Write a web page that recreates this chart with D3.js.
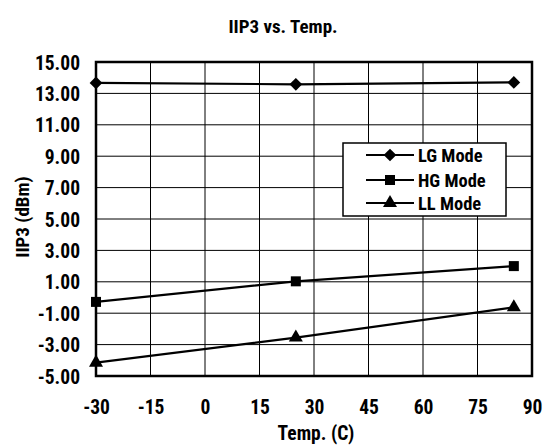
<!DOCTYPE html>
<html><head><meta charset="utf-8">
<script src="https://d3js.org/d3.v7.min.js"></script>
<style>body{margin:0;background:#fff}text{font-family:"Roboto Condensed","Liberation Sans Narrow",sans-serif;font-weight:bold;fill:#000}</style>
</head><body><svg id="c" width="554" height="446"></svg>
<script>
const temps = [-30, 25, 85];
const seriesNames = ["LG Mode", "HG Mode", "LL Mode"];
const lgMode = [13.67, 13.58, 13.7];
const hgMode = [-0.28, 1.03, 2.0];
const llMode = [-4.15, -2.55, -0.62];
const xTicks = [-30, -15, 0, 15, 30, 45, 60, 75, 90];
const yTicks = [-5, -3, -1, 1, 3, 5, 7, 9, 11, 13, 15];

const svg = d3.select("#c");
const L = 96, R = 532, T = 62, B = 376;
const x = d3.scaleLinear().domain([-30, 90]).range([L, R]);
const y = d3.scaleLinear().domain([-5, 15]).range([B, T]);
const hy = v => v.replace("\u2212", "-");

// gridlines
svg.append("g").selectAll("line").data(xTicks).join("line")
  .attr("x1", d => x(d)).attr("x2", d => x(d)).attr("y1", T).attr("y2", B)
  .attr("stroke", "#000").attr("stroke-width", 1);
svg.append("g").selectAll("line").data(yTicks).join("line")
  .attr("x1", L).attr("x2", R).attr("y1", d => y(d)).attr("y2", d => y(d))
  .attr("stroke", "#000").attr("stroke-width", 1);
svg.append("rect").attr("x", L).attr("y", T).attr("width", R - L).attr("height", B - T)
  .attr("fill", "none").attr("stroke", "#000").attr("stroke-width", 2.5);

// axes labels
const yAxis = d3.axisLeft(y).tickValues(yTicks).tickFormat(d => hy(d3.format(".2f")(d))).tickSize(0).tickPadding(16);
const gy = svg.append("g").attr("transform", `translate(${L},0)`).call(yAxis);
gy.select(".domain").remove();
gy.selectAll("text").attr("font-size", 19.5).attr("font-family", null).attr("dy", "0.36em");

const xAxis = d3.axisBottom(x).tickValues(xTicks).tickFormat(d => hy(d3.format("d")(d))).tickSize(0).tickPadding(24);
const gx = svg.append("g").attr("transform", `translate(0,${B})`).call(xAxis);
gx.select(".domain").remove();
gx.selectAll("text").attr("font-size", 19.5).attr("font-family", null);

svg.append("text").attr("x", 283).attr("y", 33).attr("text-anchor", "middle").attr("font-size", 19).text("IIP3 vs. Temp.");
svg.append("text").attr("x", 316).attr("y", 440).attr("text-anchor", "middle").attr("font-size", 19.5).text("Temp. (C)");
svg.append("text").attr("transform", "translate(29,217) rotate(-90)").attr("text-anchor", "middle").attr("font-size", 19).text("IIP3 (dBm)");

// markers
function marker(g, k) {
  if (k === 0) g.append("rect").attr("x", -4.5).attr("y", -4.5).attr("width", 9).attr("height", 9).attr("transform", "rotate(45)");
  else if (k === 1) g.append("rect").attr("x", -5).attr("y", -5).attr("width", 10).attr("height", 10);
  else g.append("path").attr("d", d3.symbol().type(d3.symbolTriangle).size(85)());
  g.attr("fill", "#000");
}

// series
const all = [lgMode, hgMode, llMode];
const line = d3.line().x((d, i) => x(temps[i])).y(d => y(d));
all.forEach((s, k) => {
  svg.append("path").attr("d", line(s)).attr("fill", "none").attr("stroke", "#000").attr("stroke-width", 2.2);
  svg.append("g").selectAll("g").data(s).join("g")
    .attr("transform", (d, i) => `translate(${x(temps[i])},${y(d)})`)
    .each(function () { marker(d3.select(this), k); });
});

// legend
const lg = svg.append("g");
lg.append("rect").attr("x", 343).attr("y", 143).attr("width", 163).attr("height", 73)
  .attr("fill", "#fff").attr("stroke", "#000").attr("stroke-width", 1.5);
const ly = [155, 180, 203];
seriesNames.forEach((n, k) => {
  lg.append("line").attr("x1", 366).attr("x2", 414).attr("y1", ly[k]).attr("y2", ly[k]).attr("stroke", "#000").attr("stroke-width", 2.2);
  marker(lg.append("g").attr("transform", `translate(390,${ly[k]})`), k);
  lg.append("text").attr("x", 418).attr("y", ly[k]).attr("dy", "0.36em").attr("font-size", 18.5).text(n);
});
</script></body></html>
